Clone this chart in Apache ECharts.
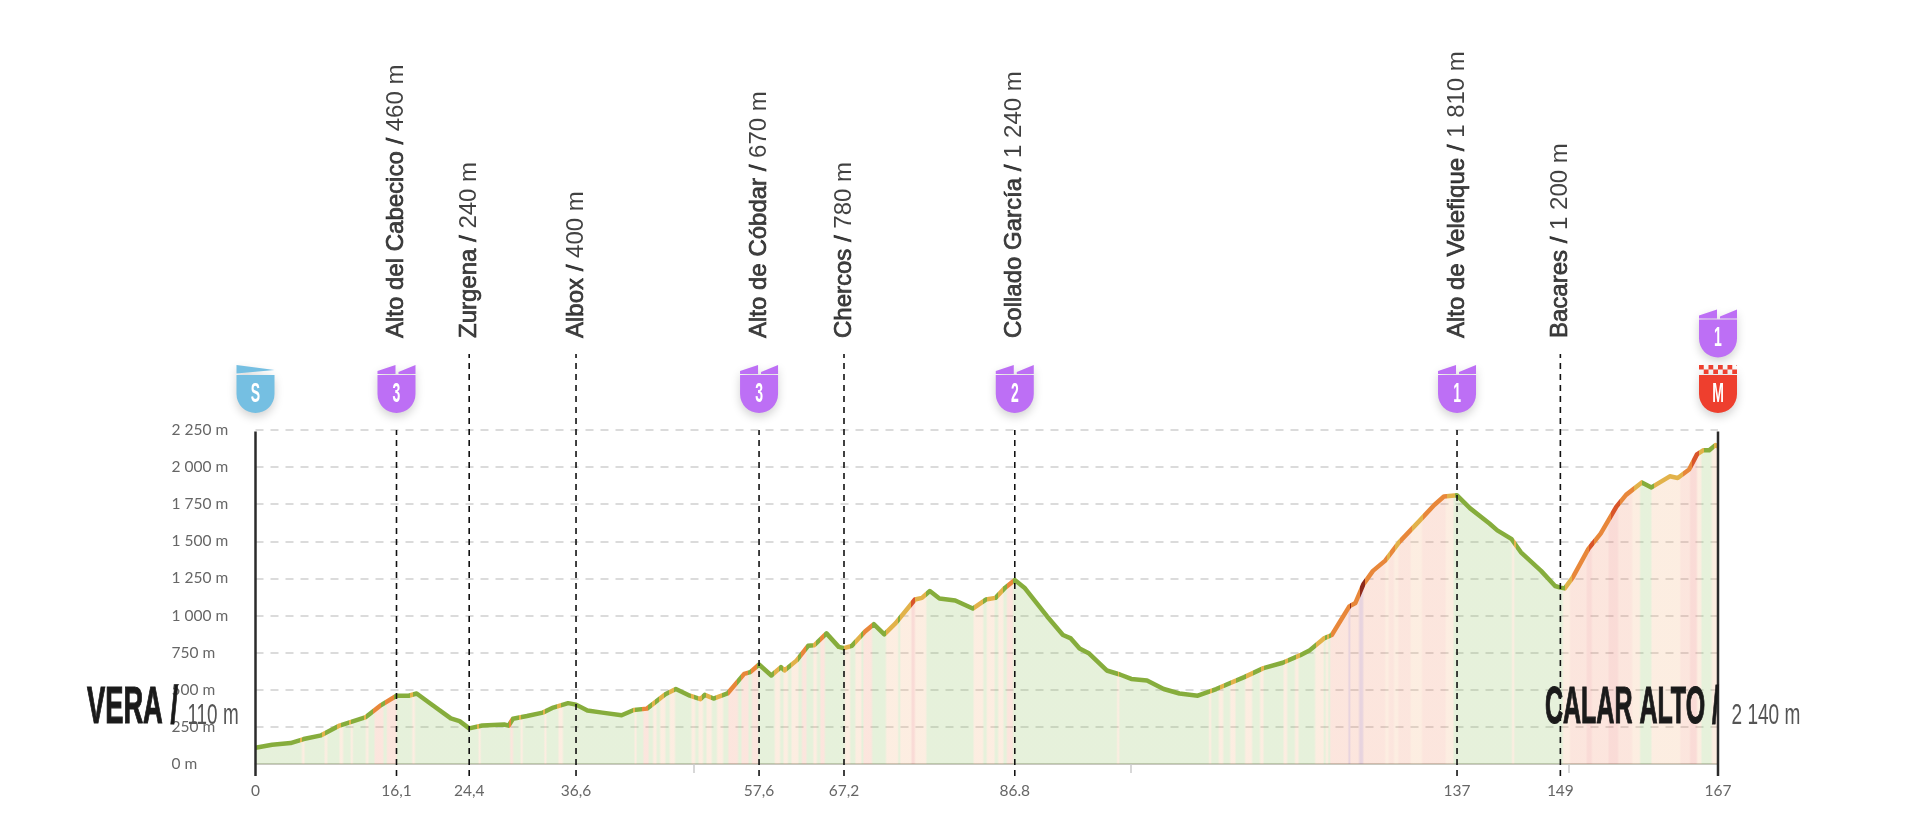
<!DOCTYPE html>
<html><head><meta charset="utf-8">
<style>html,body{margin:0;padding:0;background:#fff}#c{width:1920px;height:830px}</style>
<script src="https://cdn.jsdelivr.net/npm/echarts@6/dist/echarts.min.js"></script>
</head><body><div id="c"></div>
<script>
const profileKm = [0,1.9,4,5.5,7.5,9.6,12.6,14.2,16.1,17.5,18.4,19.8,22.3,23.3,24.4,25.9,28.4,28.9,29.4,31,32.8,34,35.7,36.6,37.9,39.6,41.8,43.2,44.7,46.8,48,49.6,50.8,51.3,52.3,53.9,55.8,56.5,57.5,58.9,60,60.4,61.8,63.1,63.8,65.2,66.6,67.2,68.1,69.6,70.6,71.8,73.1,75.3,76.1,77,78.1,79.9,81.9,83.4,84.5,85.6,86.7,87.8,90.4,92.2,93.1,94.1,95.2,97.2,98.7,100,101.8,103.7,105.5,107.6,109.7,112.9,115.1,117.3,119.3,120.4,122,122.9,124.9,125.6,126.5,127.6,129,130.6,132.8,134.6,135.7,137.2,138.7,140.9,141.8,143.4,144.5,146.8,148.4,149,149.5,150.4,152.2,153.6,155.4,156.5,158.3,159.4,161.5,162.4,163.7,164.6,165.3,166,166.7,167];
const profileElev = [110,130,141,168,193,259,316,391,460,460,475,414,307,289,240,259,266,258,305,323,346,380,410,400,360,346,328,364,373,470,505,460,437,466,441,475,607,619,670,596,653,630,698,796,800,880,789,780,796,892,942,873,949,1108,1119,1165,1115,1101,1047,1108,1119,1188,1240,1188,994,869,846,778,744,630,603,573,562,505,475,460,505,585,646,682,733,767,846,869,1062,1085,1210,1301,1370,1495,1631,1745,1802,1810,1722,1620,1574,1517,1426,1301,1199,1188,1183,1256,1449,1552,1734,1813,1897,1863,1938,1927,1984,2086,2113,2113,2148,2140];

const bandStart = [5.3,7.9,9.6,10.9,12.6,13.6,15,17.9,25.5,29.1,30.3,33,34.6,43.3,44.3,45.4,46.2,47.3,49.8,50.6,51.5,52.7,54,55.5,56.7,59.3,60.3,61.2,62.4,63.7,64.5,67.3,68.5,69.4,72,73.6,74.9,75.3,82,83.5,84.8,85.8,98.4,108.9,110,111.3,113,114.7,117.4,118.7,121,122.2,122.7,124.8,125,126,126.5,129,129.4,130,130.5,131.9,133.2,135.9,143.5,149.3,150.1,152,152.6,154.5,155.6,157.2,159.4,162.7,163.8,164.6,166.3];
const bandEnd   = [5.6,8.2,10,11.1,12.9,14.6,16.1,18.2,25.7,29.4,30.5,33.2,35.1,43.5,44.9,45.8,46.8,47.9,50.2,51.1,52.1,53.4,55.1,56.3,57.4,59.9,60.8,62,62.9,64.1,65,67.9,69.2,70.4,73.4,74.9,75.3,76.6,83.1,84.4,85.4,86.5,98.6,109.1,110.5,111.9,113.8,115.1,117.8,119.1,122,122.5,124.8,125,126,126.5,129,129.4,130,130.5,131.9,133.2,135.9,136.8,143.7,150.1,152,152.6,154.5,155.6,157.2,158.1,162.7,163.8,164.6,165.1,167];
const bandGrade = [1,1,1,1,1,2,2,1,1,2,1,1,1,1,2,1,1,1,1,1,1,1,2,2,2,1,1,1,2,1,2,1,1,2,1,1,3,1,1,1,1,2,1,1,1,1,1,1,1,1,1,1,2,4,2,4,2,1,2,1,2,1,2,1,1,1,2,3,2,3,2,1,1,2,3,1,1];

const refKm   = [16.1,24.4,36.6,57.5,67.2,86.7,137.2,149];
const refName = ['Alto del Cabecico','Zurgena','Albox','Alto de Cóbdar','Chercos','Collado García','Alto de Velefique','Bacares'];
const refAlt  = ['460 m','240 m','400 m','670 m','780 m','1 240 m','1 810 m','1 200 m'];
const refHasBadge = [true,false,false,true,false,true,true,false];

const badgeKm    = [0,16.1,57.5,86.7,137.2,167,167];
const badgeText  = ['S','3','3','2','1','M','1'];
const badgeKind  = ['start','climb','climb','climb','climb','finish','climb'];
const badgeLevel = [0,0,0,0,0,0,1];

const xLabelKm   = [0,16.1,24.4,36.6,57.5,67.2,86.7,137.2,149,167];
const xLabelText = ['0','16,1','24,4','36,6','57,6','67,2','86.8','137','149','167'];
const xTickKm    = [50,100,150];
const yTicks     = {0:'0 m',250:'250 m',500:'500 m',750:'750 m',1000:'1 000 m',1250:'1 250 m',1500:'1 500 m',1750:'1 750 m',2000:'2 000 m',2250:'2 250 m'};

const startName='VERA /', startAlt='110 m', finishName='CALAR ALTO /', finishAlt='2 140 m';

const TOTAL=167, AX_LOW=-81, AX_HIGH=2762;
const lineCols=['#86ad3c','#e2b24a','#e8873a','#d9552a','#8e2a1c'];
const areaCols=['rgba(147,195,99,.23)','rgba(243,175,119,.22)','rgba(239,127,87,.2)','rgba(232,100,80,.23)','rgba(170,100,140,.28)'];
function stops(cols,soft){
  const s=[];let pos=0;
  const push=(a,b,c)=>{const e=Math.min(soft,(b-a)/2.5);s.push({offset:(a+e)/TOTAL,color:c},{offset:(b-e)/TOTAL,color:c});};
  bandStart.forEach((st,i)=>{
    if(st>pos)push(pos,st,cols[0]);
    push(st,bandEnd[i],cols[bandGrade[i]]);pos=bandEnd[i];
  });
  if(pos<TOTAL)push(pos,TOTAL,cols[0]);
  return new echarts.graphic.LinearGradient(0,0,1,0,s);
}
const BODY='M0 10H38V29A19 19 0 0 1 0 29Z';
function checker(){let p='';for(let r=0;r<2;r++)for(let c=0;c<8;c++)if((r+c)%2===0){const x=c*4.75,y=r*4.5;p+=`M${x} ${y}h4.75v4.5h-4.75Z`;}return p+'M38 0V1H37Z';}
const shieldPath={start:'M0 0L38 5L0 8.5Z'+BODY,climb:'M0 6L18 0V9H0ZM21 7L38 0V9H21Z'+BODY,finish:checker()+BODY};
const shieldCol={start:'#75bfe2',climb:'#bd6ff5',finish:'#ee3f2e'};

const chart=echarts.init(document.getElementById('c'));
const refSeries=(kms,tops,col,w,dash)=>kms.map((k,i)=>({type:'line',xAxisIndex:1,yAxisIndex:1,silent:true,symbol:'none',z:6,
  data:[[k,AX_LOW],[k,tops[i]]],lineStyle:{color:col,width:w,type:dash}}));
chart.setOption({
  animation:false,
  backgroundColor:'#fff',
  grid:[{left:255.5,top:430,width:1462.5,height:334},{left:255.5,top:354,width:1462.5,height:422}],
  xAxis:[
    {gridIndex:0,type:'value',min:0,max:TOTAL,splitLine:{show:false},
     axisLine:{show:true,lineStyle:{color:'#c9c9c1',width:2}},
     axisTick:{show:true,customValues:xTickKm,length:9,lineStyle:{color:'#ccc',width:1.5}},
     axisLabel:{customValues:xLabelKm,margin:19,fontFamily:'Lato',fontSize:15.5,color:'#666',
       formatter:v=>xLabelText[xLabelKm.indexOf(v)]}},
    {gridIndex:1,type:'value',min:0,max:TOTAL,show:false}
  ],
  yAxis:[
    {gridIndex:0,type:'value',min:0,max:2250,interval:250,axisLine:{show:false},axisTick:{show:false},
     splitLine:{show:true,lineStyle:{color:'#cfcfcf',width:1.5,type:[8,7]}},
     axisLabel:{align:'left',margin:84,fontFamily:'Lato',fontSize:15.5,color:'#666',formatter:v=>yTicks[v]}},
    {gridIndex:1,type:'value',min:AX_LOW,max:AX_HIGH,show:false}
  ],
  series:[
    {type:'line',xAxisIndex:0,yAxisIndex:0,silent:true,symbol:'none',smooth:false,z:3,
     data:profileKm.map((k,i)=>[k,profileElev[i]]),
     lineStyle:{width:4.5,color:stops(lineCols,0),join:'round'},
     areaStyle:{color:stops(areaCols,.12),opacity:1}},
    ...refSeries(refKm,refKm.map((k,i)=>refHasBadge[i]?2250:AX_HIGH),'#111',1.6,[6,5]),
    ...refSeries([0,TOTAL],[2240,2240],'#2b2b2b',2.5,'solid'),
    {type:'scatter',xAxisIndex:1,yAxisIndex:1,silent:true,symbolSize:0,z:7,
     data:refKm.map(k=>[k,AX_HIGH]),
     label:{show:true,position:'top',distance:16,rotate:90,align:'left',verticalAlign:'middle',
       formatter:p=>`{b|${refName[p.dataIndex]} / }{r|${refAlt[p.dataIndex]}}`,
       rich:{b:{fontFamily:'Liberation Sans',fontSize:24,color:'#111',textBorderColor:'#111',textBorderWidth:0.7},
             r:{fontFamily:'Liberation Sans',fontSize:24,color:'#111'}}}},
    {type:'custom',xAxisIndex:1,yAxisIndex:1,silent:true,clip:false,z:8,
     data:badgeKm.map(k=>[k,2250]),
     renderItem:(params,api)=>{
       const i=params.dataIndex,pt=api.coord([api.value(0),api.value(1)]);
       const top=badgeLevel[i]?-120.5:-65,kind=badgeKind[i];
       return {type:'group',x:pt[0],y:pt[1],children:[
         {type:'path',shape:{pathData:shieldPath[kind],x:-19,y:top,width:38,height:48,layout:'cover'},
          style:{fill:shieldCol[kind],shadowBlur:10,shadowColor:'rgba(0,0,0,.18)',shadowOffsetY:4}},
         {type:'text',x:0,y:top+29,scaleX:.5,
          style:{text:badgeText[i],fontFamily:'Liberation Sans',fontWeight:'bold',fontSize:28,fill:'#fff',align:'center',verticalAlign:'middle'}}
       ]};
     }}
  ],
  graphic:[
    {type:'text',x:87,y:709,scaleX:.535,z:20,style:{text:startName,fontFamily:'Liberation Sans',fontWeight:'bold',fontSize:51,fill:'#1a1a1a',stroke:'#1a1a1a',lineWidth:1.2,verticalAlign:'middle'}},
    {type:'text',x:187.5,y:716,scaleX:.63,z:20,style:{text:startAlt,fontFamily:'Liberation Sans',fontSize:30,fill:'#555',verticalAlign:'middle'}},
    {type:'text',x:1545,y:709,scaleX:.49,z:20,style:{text:finishName,fontFamily:'Liberation Sans',fontWeight:'bold',fontSize:51,fill:'#1a1a1a',stroke:'#1a1a1a',lineWidth:1.2,verticalAlign:'middle'}},
    {type:'text',x:1731.5,y:716,scaleX:.635,z:20,style:{text:finishAlt,fontFamily:'Liberation Sans',fontSize:30,fill:'#555',verticalAlign:'middle'}}
  ]
});
</script></body></html>
